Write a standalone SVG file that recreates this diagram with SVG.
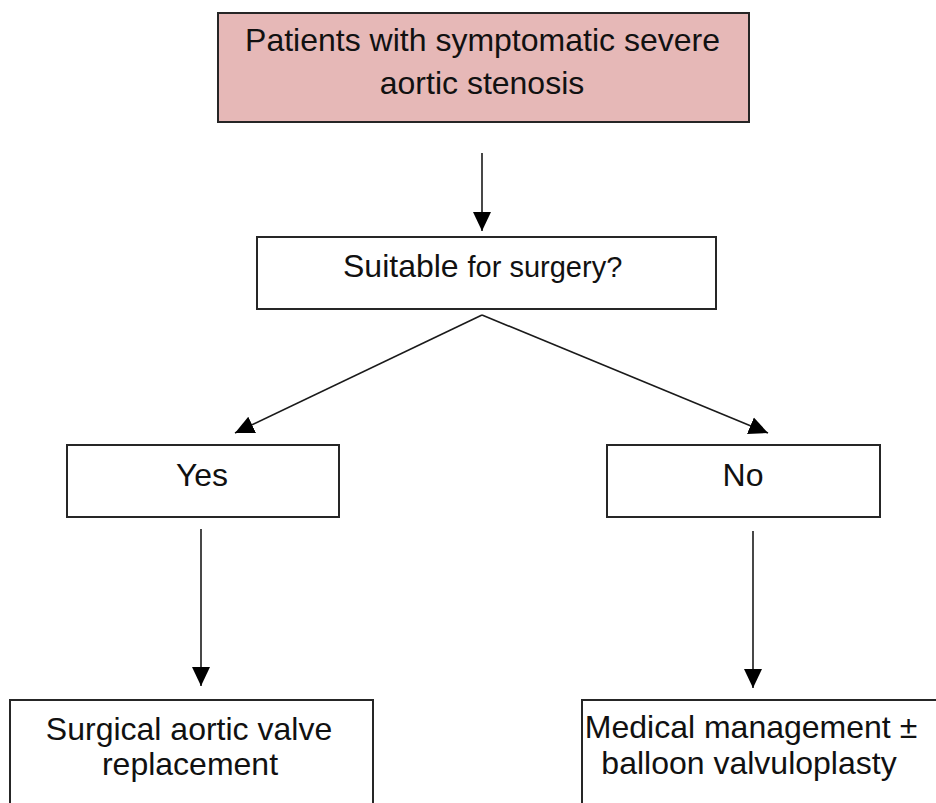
<svg xmlns="http://www.w3.org/2000/svg" width="936" height="803" viewBox="0 0 936 803">
<style>
.box{fill:#ffffff;stroke:#262626;stroke-width:2}
.top{fill:#e6b8b7}
.t{font-family:"Liberation Sans",Arial,sans-serif;font-size:32px;fill:#111}
.c{text-anchor:middle}
.con{stroke:#1a1a1a;stroke-width:1.6;fill:none}
</style>
<defs>
<marker id="ah" markerUnits="userSpaceOnUse" markerWidth="20" markerHeight="20" viewBox="0 0 20 20" refX="19" refY="10" orient="auto">
<path d="M0,1 L19,10 L0,19 Z" fill="#000"/>
</marker>
</defs>
<rect width="936" height="803" fill="#ffffff"/>
<g id="connectors">
<line class="con" x1="482" y1="153" x2="482" y2="231" marker-end="url(#ah)"/>
<line class="con" x1="482" y1="315" x2="235" y2="433" marker-end="url(#ah)"/>
<line class="con" x1="482" y1="315" x2="768" y2="433" marker-end="url(#ah)"/>
<line class="con" x1="201" y1="529" x2="201" y2="686" marker-end="url(#ah)"/>
<line class="con" x1="753" y1="531" x2="753" y2="688" marker-end="url(#ah)"/>
</g>
<g id="start">
<rect class="box top" x="218" y="13" width="531" height="109"/>
<text class="t c" x="482.5" y="51">Patients with symptomatic severe</text>
<text class="t c" x="482" y="94">aortic stenosis</text>
</g>
<g id="suitable">
<rect class="box" x="257" y="237" width="459" height="72"/>
<text class="t" x="343" y="277">Suitable <tspan font-size="29">for surgery?</tspan></text>
</g>
<g id="yes">
<rect class="box" x="67" y="445" width="272" height="72"/>
<text class="t c" x="202" y="486">Yes</text>
</g>
<g id="no">
<rect class="box" x="607" y="445" width="273" height="72"/>
<text class="t c" x="743" y="486">No</text>
</g>
<g id="savr">
<rect class="box" x="10" y="700" width="363" height="120"/>
<text class="t c" x="189" y="740">Surgical aortic valve</text>
<text class="t c" x="190" y="775">replacement</text>
</g>
<g id="medical">
<rect class="box" x="582" y="700" width="380" height="120"/>
<text class="t c" x="751" y="738">Medical management ±</text>
<text class="t c" x="749" y="774">balloon valvuloplasty</text>
</g>
</svg>
